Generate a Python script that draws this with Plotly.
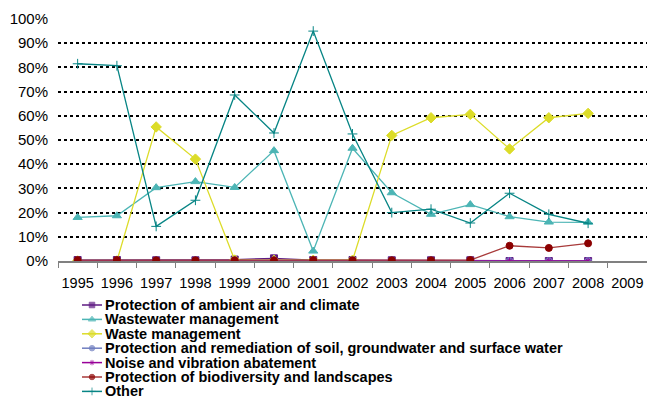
import plotly.graph_objects as go

W, H = 647, 396
PL, PR, PT, PB = 58, 647, 19, 261  # plot area in pixels

years = [str(y) for y in range(1995, 2010)]
data_years = [str(y) for y in range(1995, 2009)]

air = [0.004, 0.004, 0.003, 0.003, 0.006, 0.011, 0.004, 0.004, 0.003, 0.003, 0.003, 0.0, 0.0, 0.0]
wastewater = [0.180, 0.187, 0.303, 0.328, 0.304, 0.456, 0.041, 0.466, 0.282, 0.193, 0.233, 0.183, 0.161, 0.160]
waste = [0.000, 0.000, 0.554, 0.421, 0.004, 0.003, 0.003, 0.003, 0.519, 0.592, 0.606, 0.463, 0.592, 0.610]
soil = [0.003, 0.003, 0.003, 0.003, 0.003, 0.003, 0.003, 0.003, 0.003, 0.003, 0.003, 0.0, 0.0, 0.0]
noise = [0.0, 0.0, 0.0, 0.0, 0.0, 0.0, 0.0, 0.0, 0.0, 0.0, 0.0, 0.0, 0.0, 0.0]
biodiversity = [0.004, 0.004, 0.003, 0.003, 0.003, 0.003, 0.004, 0.003, 0.003, 0.003, 0.004, 0.063, 0.054, 0.073]
other = [0.815, 0.807, 0.143, 0.251, 0.686, 0.529, 0.950, 0.525, 0.200, 0.214, 0.157, 0.280, 0.193, 0.156]

y_ticks = [0, 0.1, 0.2, 0.3, 0.4, 0.5, 0.6, 0.7, 0.8, 0.9, 1.0]

series = [
    ("Protection of ambient air and climate", air, "#5E1A82", "#5E1A82", "square", 7),
    ("Wastewater management", wastewater, "#4CB5B5", "#4CB5B5", "triangle-up", 8),
    ("Waste management", waste, "#DCDC28", "#DCDC28", "diamond", 8),
    ("Protection and remediation of soil, groundwater and surface water", soil, "#6F7EC0", "#6F7EC0", "circle", 7),
    ("Noise and vibration abatement", noise, "#990099", "#990099", "asterisk-open", 6),
    ("Protection of biodiversity and landscapes", biodiversity, "#A83A3A", "#8B0000", "circle", 7),
    ("Other", other, "#078585", "#078585", "cross-thin-open", 7),
]

fig = go.Figure()
for name, vals, lc, mc, sym, size in series:
    fig.add_trace(go.Scatter(
        x=data_years, y=vals, name=name, mode="lines+markers",
        line=dict(color=lc, width=1.3),
        marker=dict(symbol=sym, size=size, color=mc, line=dict(color=mc, width=1)),
        showlegend=False, xaxis="x", yaxis="y",
    ))

# Custom compact legend drawn on a pixel-coordinate overlay axis
row0, row_gap = 305, 14.4
for i, (name, vals, lc, mc, sym, size) in enumerate(series):
    yy = row0 + i * row_gap
    fig.add_trace(go.Scatter(
        x=[82, 92, 102], y=[yy, yy, yy], mode="lines+markers",
        line=dict(color=lc, width=1.5),
        marker=dict(symbol=sym, size=[0, size - 1.5, 0], color=mc, line=dict(color=mc, width=1)),
        showlegend=False, hoverinfo="skip", xaxis="x2", yaxis="y2",
    ))
    fig.add_annotation(
        x=104, y=yy, xref="x2", yref="y2", text=name, showarrow=False,
        xanchor="left", yanchor="middle", borderpad=0,
        font=dict(family="Liberation Sans, Arial", size=14.5, color="black", weight="bold"),
    )

fig.update_layout(
    width=W, height=H,
    margin=dict(l=0, r=0, t=0, b=0, autoexpand=False),
    paper_bgcolor="white", plot_bgcolor="rgba(0,0,0,0)",
    font=dict(family="Liberation Sans, Arial", size=14, color="black"),
    xaxis=dict(
        type="category", categoryorder="array", categoryarray=years,
        tickvals=years, ticktext=years, tickangle=0,
        range=[-0.5, len(years) - 0.5],
        domain=[PL / W, PR / W],
        tickson="boundaries", ticks="outside", ticklen=5, tickcolor="#808080",
        showline=True, linecolor="#808080", linewidth=2,
        showgrid=False, zeroline=False, automargin=False,
        ticklabelstandoff=8,
        tickfont=dict(size=14.5), anchor="y",
    ),
    yaxis=dict(
        range=[0, 1.0], tickvals=y_ticks, tickformat=".0%",
        domain=[(H - PB) / H, (H - PT) / H],
        showgrid=True, gridcolor="black", griddash="dot", gridwidth=2,
        showline=False, zeroline=False, ticks="", ticklen=0, automargin=False,
        ticklabelstandoff=9,
        tickfont=dict(size=15), anchor="x",
    ),
    xaxis2=dict(range=[0, W], domain=[0, 1], visible=False, anchor="y2", automargin=False),
    yaxis2=dict(range=[H, 0], domain=[0, 1], visible=False, anchor="x2", automargin=False),
)

fig.write_html(
    "out.html",
    config={"displayModeBar": False},
    post_script="document.body.style.margin='0px';document.body.style.padding='0px';",
)
